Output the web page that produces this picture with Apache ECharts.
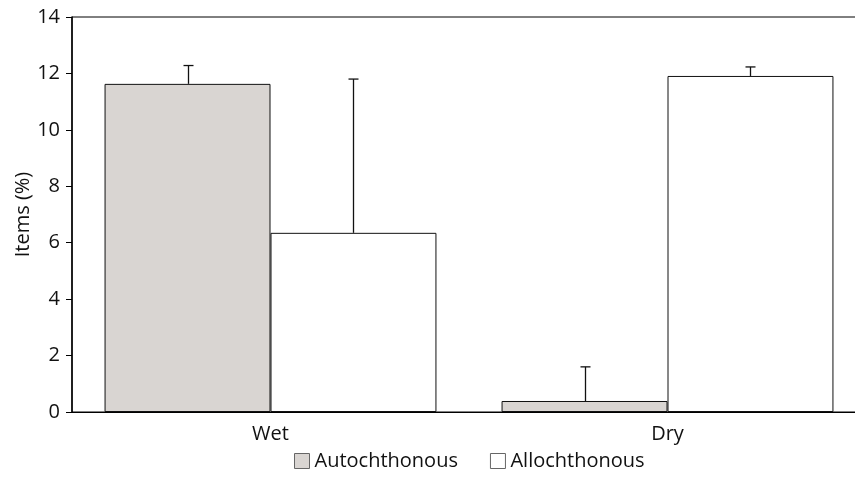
<!DOCTYPE html>
<html>
<head>
<meta charset="utf-8">
<script src="https://cdn.jsdelivr.net/npm/echarts@6/dist/echarts.min.js"></script>
<style>
  html, body { margin: 0; padding: 0; background: #fff; overflow: hidden; }
  /* plot runs past the right edge of the window, like the original */
  #chart { width: 866px; height: 480px; }
</style>
</head>
<body>
<div id="chart"></div>
<script>
var categories = ['Wet', 'Dry'];
var autochthonous = [11.63, 0.39];
var allochthonous = [6.35, 11.91];
// error bars (upper part only)
var autochthonousErr = [0.65, 1.21];
var allochthonousErr = [5.45, 0.32];
var yTicks = [0, 2, 4, 6, 8, 10, 12, 14];

var FONT = 'Open Sans';
var FS = 20;
var GAP = 0.164;

function errData(vals, errs) {
    var d = [];
    for (var i = 0; i < vals.length; i++) {
        d.push([i, vals[i], errs[i]]);
    }
    return d;
}

function errRender(side) {
    return function (params, api) {
        var band = api.size([1, 0])[0];
        var off = side * band * (1 - GAP) / 4;
        var base = api.coord([api.value(0), api.value(1)]);
        var top = api.coord([api.value(0), api.value(1) + api.value(2)]);
        var x = Math.round(base[0] + off) + 0.5;
        var style = {stroke: '#111', lineWidth: 1.3};
        return {
            type: 'group',
            children: [
                {type: 'line', shape: {x1: x, y1: base[1], x2: x, y2: top[1]}, style: style},
                {type: 'line', shape: {x1: x - 5, y1: top[1], x2: x + 5, y2: top[1]}, style: style}
            ]
        };
    };
}

var myChart = echarts.init(document.getElementById('chart'));
var option = {
    animation: false,
    textStyle: {fontFamily: FONT},
    grid: {
        left: 72,
        top: 17,
        bottom: 68,
        right: 0,
        show: true,
        borderColor: '#000',
        borderWidth: 1
    },
    legend: {
        data: ['Autochthonous', 'Allochthonous'],
        top: 446,
        left: 289,
        icon: 'rect',
        itemWidth: 15,
        itemHeight: 15,
        itemGap: 32,
        itemStyle: {borderColor: '#666', borderWidth: 1},
        textStyle: {fontFamily: FONT, fontSize: FS, color: '#111'}
    },
    xAxis: {
        type: 'category',
        data: categories,
        axisLine: {lineStyle: {color: '#000', width: 1}},
        axisTick: {length: 6, lineStyle: {color: '#000'}},
        axisLabel: {fontFamily: FONT, fontSize: FS, color: '#111', margin: 12}
    },
    yAxis: {
        type: 'value',
        min: 0,
        max: 14,
        interval: 2,
        name: 'Items (%)',
        nameLocation: 'middle',
        nameGap: 39,
        nameMoveOverlap: false,
        nameTextStyle: {fontFamily: FONT, fontSize: FS, color: '#111'},
        splitLine: {show: false},
        axisLine: {show: true, lineStyle: {color: '#000', width: 1.5}},
        axisTick: {show: true, length: 6, lineStyle: {color: '#000'}},
        axisLabel: {
            fontFamily: FONT, fontSize: FS, color: '#111', margin: 12,
            formatter: function (v) { return yTicks.indexOf(v) >= 0 ? String(v) : ''; }
        }
    },
    series: [
        {
            name: 'Autochthonous',
            type: 'bar',
            data: autochthonous,
            barGap: '0%',
            barCategoryGap: (GAP * 100) + '%',
            itemStyle: {color: '#d9d5d2', borderColor: '#111', borderWidth: 1}
        },
        {
            name: 'Allochthonous',
            type: 'bar',
            data: allochthonous,
            itemStyle: {color: '#ffffff', borderColor: '#111', borderWidth: 1}
        },
        {
            name: 'autoErr',
            type: 'custom',
            renderItem: errRender(-1),
            encode: {x: 0, y: 1},
            data: errData(autochthonous, autochthonousErr),
            z: 5
        },
        {
            name: 'alloErr',
            type: 'custom',
            renderItem: errRender(1),
            encode: {x: 0, y: 1},
            data: errData(allochthonous, allochthonousErr),
            z: 5
        }
    ]
};
myChart.setOption(option);
</script>
</body>
</html>
